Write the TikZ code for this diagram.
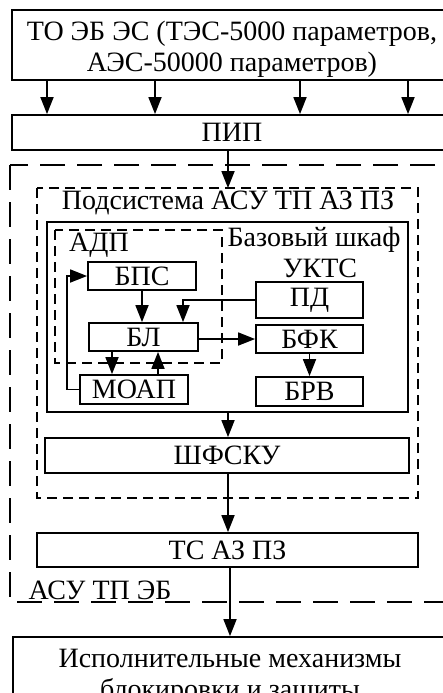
\documentclass[tikz,border=0pt]{standalone}
\usepackage{fontspec}
\setmainfont{Liberation Serif}
\usetikzlibrary{arrows.meta,calc}
\begin{document}
\begin{tikzpicture}[x=1pt,y=-1pt,
  box/.style={draw,line width=1.8pt,inner sep=0pt,align=center,font=\fontsize{28}{31}\selectfont},
  lbl/.style={inner sep=0pt,align=center,font=\fontsize{28}{31}\selectfont},
  arr/.style={line width=1.8pt,-{Triangle[length=17pt,width=13pt]}},
  bigdash/.style={line width=1.8pt,dash pattern=on 25pt off 12pt},
  smalldash/.style={line width=1.8pt,dash pattern=on 10pt off 6pt}]
\useasboundingbox (0,0) rectangle (443,693);
\clip (0,0) rectangle (443,693);
% outer frames
\draw[bigdash] (10,165) rectangle (470,602);
\draw[smalldash] (37,188) rectangle (418,498);
\draw[line width=1.8pt] (47,222) rectangle (408,412);
\draw[smalldash] (55,230) rectangle (222,363);
% top box
\node[box,minimum width=440pt,minimum height=70pt] (top) at (232,45) {};
\node[lbl] (toptxt) at (232,49) {ТО ЭБ ЭС (ТЭС-5000 параметров,\\АЭС-50000 параметров)};
% boxes
\node[box,minimum width=440pt,minimum height=35pt] (pip) at (232,132.5) {ПИП};
\node[box,minimum width=108pt,minimum height=28pt] (bps) at (142,276) {БПС};
\node[box,minimum width=107pt,minimum height=36pt] (pd) at (309.5,300) {ПД};
\node[box,minimum width=109pt,minimum height=28pt] (bl) at (143.5,337) {БЛ};
\node[box,minimum width=107pt,minimum height=28pt] (bfk) at (309.5,339) {БФК};
\node[box,minimum width=108pt,minimum height=29pt] (moap) at (134,389.5) {МОАП};
\node[box,minimum width=107pt,minimum height=29pt] (brv) at (309.5,391.5) {БРВ};
\node[box,minimum width=364pt,minimum height=35pt] (shf) at (227,455.5) {ШФСКУ};
\node[box,minimum width=381pt,minimum height=34pt] (ts) at (227.5,550) {ТС АЗ ПЗ};
\node[box,minimum width=434pt,minimum height=80pt] (isp) at (230,677) {Исполнительные механизмы\\блокировки и защиты};
% labels
\node[lbl] (lsub) at (228,203) {Подсистема АСУ ТП АЗ ПЗ};
\node[lbl] (lbase) at (314,240) {Базовый шкаф};
\node[lbl] (lukts) at (320,268) {УКТС};
\node[lbl] (ladp) at (99,245) {АДП};
\node[lbl] (lasu) at (100,590) {АСУ ТП ЭБ};
% coordinates
\coordinate (subtop) at (228,188);
\coordinate (basebot) at (228,412);
% arrows
\foreach \x in {47,155,300,408}{
  \draw[arr] (top.south -| \x,0) -- (pip.north -| \x,0);
}
\draw[arr] (pip.south -| subtop) -- (subtop);
\draw[arr] (bps.south) -- (bps.south |- bl.north);
\draw[arr] (pd.west) -| ([xshift=39.5pt]bl.north);
\draw[arr] (bl.east |- bfk.west) -- (bfk.west);
\draw[arr] (bfk.south) -- (bfk.south |- brv.north);
\draw[arr] ([xshift=-31.5pt]bl.south) -- ([xshift=-31.5pt]bl.south |- moap.north);
\draw[arr] ([xshift=24pt]moap.north) -- ([xshift=24pt]moap.north |- bl.south);
\draw[arr] (moap.west) -- ++(-12,0) |- (bps.west);
\draw[arr] (basebot) -- (basebot |- shf.north);
\draw[arr] (shf.south -| basebot) -- (ts.north -| basebot);
\draw[arr] (ts.south -| isp.north) -- (isp.north);
\end{tikzpicture}
\end{document}
